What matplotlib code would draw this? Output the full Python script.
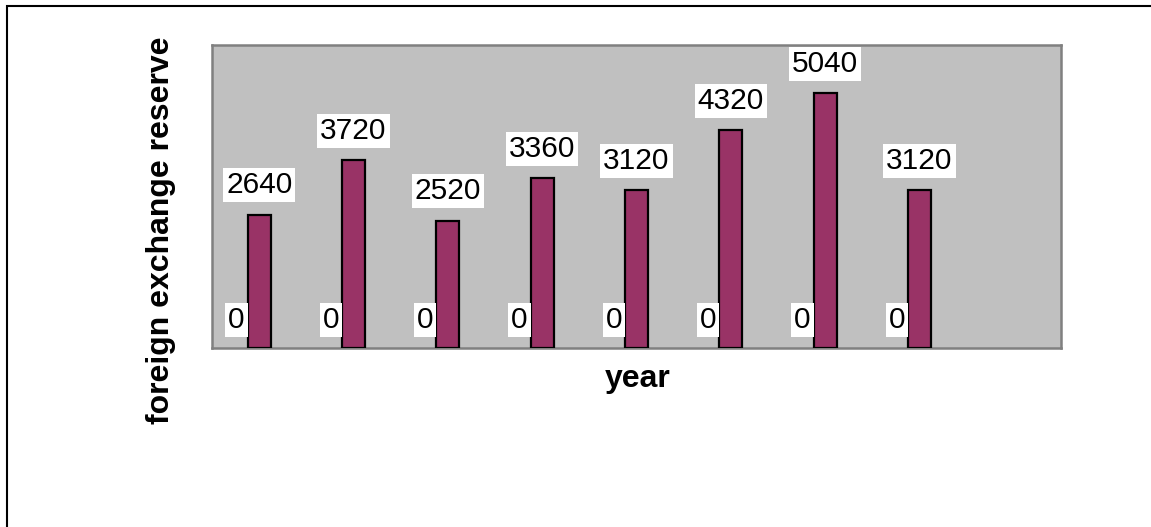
import matplotlib

matplotlib.use("Agg")

import matplotlib.pyplot as plt
from matplotlib.patches import Rectangle

plt.rcParams["font.family"] = ["Liberation Sans", "DejaVu Sans"]

# values, one bar per year (the year labels are not shown)
reserve_values = [2640, 3720, 2520, 3360, 3120, 4320, 5040, 3120]
zero_values = [0, 0, 0, 0, 0, 0, 0, 0]
x_label = "year"
y_label = "foreign exchange reserve"

BAR_COLOR = "#993366"
PLOT_BG = "#C0C0C0"
BAR_WIDTH = 0.245

fig = plt.figure(figsize=(11.51, 5.27), dpi=100)
ax = fig.add_axes([212 / 1151, 179 / 527, 849 / 1151, 303 / 527])
ax.set_facecolor(PLOT_BG)

positions = list(range(len(reserve_values)))
bars = ax.bar(
    positions,
    reserve_values,
    width=BAR_WIDTH,
    color=BAR_COLOR,
    edgecolor="black",
    linewidth=1.6,
    zorder=3,
)

label_box = dict(boxstyle="square,pad=0.1", facecolor="white", edgecolor="none")

for bar, value in zip(bars, reserve_values):
    ax.annotate(
        f"{value}",
        (bar.get_x() + bar.get_width() / 2, value),
        xytext=(0, 11),
        textcoords="offset points",
        ha="center",
        va="bottom",
        fontsize=21.5,
        bbox=label_box,
        zorder=4,
    )

# second series is all zeros: only its labels show, just left of each bar
for bar, value in zip(bars, zero_values):
    ax.annotate(
        f"{value}",
        (bar.get_x(), value),
        xytext=(-2, 10),
        textcoords="offset points",
        ha="right",
        va="bottom",
        fontsize=21.5,
        bbox=label_box,
        zorder=4,
    )

ax.set_xlim(-0.5, len(reserve_values) + 0.5)
ax.set_ylim(0, 6000)
ax.set_xticks([])
ax.set_yticks([])

for spine in ax.spines.values():
    spine.set_color("#808080")
    spine.set_linewidth(1.8)

ax.set_xlabel(x_label, fontsize=23, fontweight="bold", va="center")
ax.xaxis.set_label_coords(0.501, -0.102)
ax.set_ylabel(y_label, fontsize=23, fontweight="bold", va="center")
ax.yaxis.set_label_coords(-0.060, 0.39)

# chart-area border; only its top and left edges fall inside the picture
fig.patches.append(
    Rectangle(
        (7 / 1151, -0.1),
        1.2,
        (527 - 6) / 527 + 0.1,
        transform=fig.transFigure,
        fill=False,
        edgecolor="black",
        linewidth=1.5,
    )
)

fig.savefig("out.png", dpi=100)
plt.close(fig)
